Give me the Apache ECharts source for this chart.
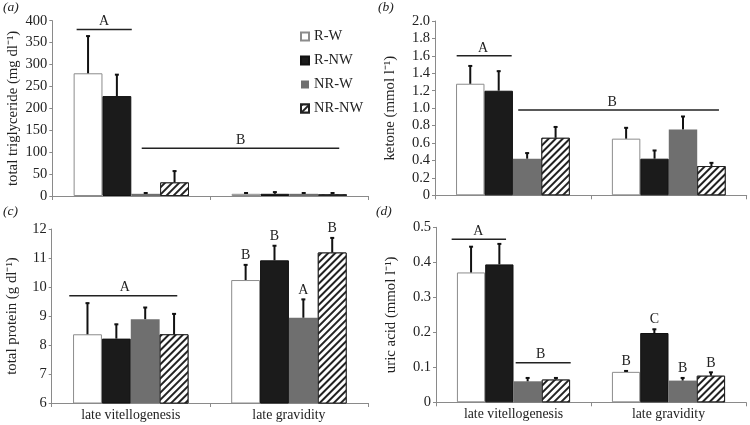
<!DOCTYPE html>
<html><head><meta charset="utf-8">
<script src="https://cdn.jsdelivr.net/npm/echarts@6/dist/echarts.min.js"></script>
<style>html,body{margin:0;padding:0;background:#fff}#c{width:750px;height:425px}</style>
</head><body><div id="c"></div>
<script>
// ---------- data ----------
const categories = ['late vitellogenesis', 'late gravidity'];
const seriesNames = ['R-W', 'R-NW', 'NR-W', 'NR-NW'];

// (a) total triglyceride: means / error tops, one row per series, [vitellogenesis, gravidity]
const trigMeans = [[280, 5], [228, 5], [5, 5], [31, 4]];
const trigErrs  = [[366, 8], [278, 10], [8, 8], [58, 8]];
const trigTicks = [0, 400, 50];
// annotation lines: [x1, x2, y, labelX] in category units; labels separately
const trigAnnLines = [[0.154, 0.503, 380, 0.327], [0.566, 1.816, 109, 1.192]];
const trigAnnLabels = ['A', 'B'];

// (b) ketone
const ketMeans = [[1.28, 0.65], [1.20, 0.42], [0.42, 0.756], [0.66, 0.336]];
const ketErrs  = [[1.49, 0.78], [1.43, 0.52], [0.49, 0.91], [0.79, 0.378]];
const ketTicks = [0, 2, 0.2];
const ketAnnLines = [[0.139, 0.492, 1.60, 0.308], [0.534, 1.822, 0.98, 1.136]];
const ketAnnLabels = ['A', 'B'];

// (c) total protein
const protMeans = [[8.37, 10.24], [8.22, 10.92], [8.89, 8.94], [8.37, 11.19]];
const protErrs  = [[9.46, 10.78], [8.73, 11.44], [9.31, 9.59], [9.09, 11.71]];
const protTicks = [6, 12, 1];
const protAnnLines = [[0.111, 0.794, 9.70, 0.463]];
const protAnnLabels = ['A'];
const protLetters = [['', 'B'], ['', 'B'], ['', 'A'], ['', 'B']];

// (d) uric acid
const uricMeans = [[0.371, 0.087], [0.394, 0.198], [0.060, 0.062], [0.065, 0.076]];
const uricErrs  = [[0.446, 0.091], [0.454, 0.210], [0.071, 0.071], [0.071, 0.087]];
const uricTicks = [0, 0.5, 0.1];
const uricAnnLines = [[0.101, 0.452, 0.466, 0.273], [0.514, 0.869, 0.113, 0.675]];
const uricAnnLabels = ['A', 'B'];
const uricLetters = [['', 'B'], ['', 'C'], ['', 'B'], ['', 'B']];

// ---------- layout / style ----------
const FONT = 'Liberation Serif';
const GAP = 0.27;
const TICKFS = 14.5;
const panels = [
  {grid: {left: 52.3, top: 20.7, width: 316, height: 175.3}, ticks: trigTicks, means: trigMeans, errs: trigErrs,
   ann: trigAnnLines, annLab: trigAnnLabels, letters: null, name: 'total triglyceride (mg dl⁻¹)', nameGap: 31.5,
   showCat: false, fmt: v => String(v)},
  {grid: {left: 435, top: 21, width: 311.7, height: 174.3}, ticks: ketTicks, means: ketMeans, errs: ketErrs,
   ann: ketAnnLines, annLab: ketAnnLabels, letters: null, name: 'ketone (mmol l⁻¹)', nameGap: 37,
   showCat: false, fmt: v => v === 0 ? '0' : v.toFixed(1)},
  {grid: {left: 51.7, top: 229, width: 316.3, height: 174}, ticks: protTicks, means: protMeans, errs: protErrs,
   ann: protAnnLines, annLab: protAnnLabels, letters: protLetters, name: 'total protein (g dl⁻¹)', nameGap: 32,
   showCat: true, fmt: v => String(v)},
  {grid: {left: 436, top: 227.3, width: 310, height: 175}, ticks: uricTicks, means: uricMeans, errs: uricErrs,
   ann: uricAnnLines, annLab: uricAnnLabels, letters: uricLetters, name: 'uric acid (mmol l⁻¹)', nameGap: 37,
   showCat: true, fmt: v => v === 0 ? '0' : v.toFixed(1)}
];
const barStyles = [
  {color: '#ffffff', borderColor: '#8c8c8c', borderWidth: 1},
  {color: '#1b1b1b', borderColor: '#111111', borderWidth: 1},
  {color: '#6f6f6f', borderWidth: 0},
  {color: '#ffffff', borderColor: '#222222', borderWidth: 1,
   decal: {symbol: 'rect', symbolSize: 1, dashArrayX: [1, 0], dashArrayY: [1.7, 2.6], rotation: -Math.PI / 4,
           color: '#222222', backgroundColor: '#ffffff'}}
];

const grids = [], xAxes = [], yAxes = [], series = [];
panels.forEach((p, pi) => {
  grids.push(p.grid);
  xAxes.push({type: 'category', gridIndex: pi, data: categories,
    axisLine: {lineStyle: {color: '#8a8a8a', width: 1}},
    axisTick: {show: true, length: 4, lineStyle: {color: '#8a8a8a'}},
    axisLabel: {show: p.showCat, fontFamily: FONT, fontSize: 13.8, color: '#222', margin: 5}});
  xAxes.push({type: 'value', gridIndex: pi, min: 0, max: 2, show: false});
  yAxes.push({type: 'value', gridIndex: pi, min: p.ticks[0], max: p.ticks[1], interval: p.ticks[2],
    name: p.name, nameLocation: 'middle', nameGap: p.nameGap,
    nameTextStyle: {fontFamily: FONT, fontSize: 14.8, color: '#222'},
    axisLine: {show: true, lineStyle: {color: '#8a8a8a', width: 1}},
    axisTick: {show: true, length: 3, lineStyle: {color: '#8a8a8a'}},
    splitLine: {show: false},
    axisLabel: {fontFamily: FONT, fontSize: TICKFS, color: '#222', margin: 5, formatter: p.fmt}});
  const xc = 2 * pi, xv = 2 * pi + 1;
  seriesNames.forEach((nm, si) => {
    series.push({type: 'bar', name: nm, xAxisIndex: xc, yAxisIndex: pi, barGap: '0%', barCategoryGap: (GAP * 100) + '%',
      data: p.means[si], itemStyle: barStyles[si], emphasis: {disabled: true}, animation: false});
  });
  seriesNames.forEach((nm, si) => {
    series.push({type: 'custom', xAxisIndex: xc, yAxisIndex: pi, z: 5, animation: false, silent: true,
      data: categories.map((c, ci) => [ci, p.means[si][ci], p.errs[si][ci]]),
      renderItem: (params, api) => {
        const ci = api.value(0), m = api.value(1), e = api.value(2);
        const band = api.size([1, 0])[0];
        const bw = band * (1 - GAP) / 4;
        const base = api.coord([ci, m]);
        const cx = base[0] - band * (1 - GAP) / 2 + (si + 0.5) * bw;
        const yt = api.coord([ci, e])[1];
        const ch = [
          {type: 'line', shape: {x1: cx, y1: base[1], x2: cx, y2: yt}, style: {stroke: '#111', lineWidth: 2}},
          {type: 'line', shape: {x1: cx - 2, y1: yt + 0.5, x2: cx + 2, y2: yt + 0.5}, style: {stroke: '#111', lineWidth: 2}}
        ];
        const lt = p.letters ? p.letters[si][params.dataIndex] : '';
        if (lt) ch.push({type: 'text', x: cx, y: yt - 2,
          style: {text: lt, fontFamily: FONT, fontSize: 14, fill: '#222', align: 'center', verticalAlign: 'bottom'}});
        return {type: 'group', children: ch};
      }});
  });
  series.push({type: 'custom', xAxisIndex: xv, yAxisIndex: pi, z: 6, animation: false, silent: true,
    data: p.ann,
    renderItem: (params, api) => {
      const a = api.coord([api.value(0), api.value(2)]);
      const b = api.coord([api.value(1), api.value(2)]);
      const lx = api.coord([api.value(3), api.value(2)])[0];
      return {type: 'group', children: [
        {type: 'line', shape: {x1: a[0], y1: a[1], x2: b[0], y2: b[1]}, style: {stroke: '#222', lineWidth: 1.5}},
        {type: 'text', x: lx, y: a[1] - 1,
         style: {text: p.annLab[params.dataIndex], fontFamily: FONT, fontSize: 14, fill: '#222', align: 'center', verticalAlign: 'bottom'}}
      ]};
    }});
});

const tagStyle = {fontFamily: FONT, fontSize: 13.5, fontStyle: 'italic', fill: '#222'};
const chart = echarts.init(document.getElementById('c'), null, {renderer: 'canvas'});
chart.setOption({
  animation: false,
  backgroundColor: '#fff',
  grid: grids, xAxis: xAxes, yAxis: yAxes, series: series,
  legend: {data: seriesNames, orient: 'vertical', left: 295, top: 24, itemWidth: 8, itemHeight: 8, itemGap: 9,
    icon: 'rect', textStyle: {fontFamily: FONT, fontSize: 14.5, color: '#222'}, selectedMode: false},
  graphic: [
    {type: 'text', left: 3, top: 0, style: Object.assign({text: '(a)'}, tagStyle)},
    {type: 'text', left: 378, top: 0, style: Object.assign({text: '(b)'}, tagStyle)},
    {type: 'text', left: 3, top: 204, style: Object.assign({text: '(c)'}, tagStyle)},
    {type: 'text', left: 376, top: 204, style: Object.assign({text: '(d)'}, tagStyle)}
  ]
});
</script>
</body></html>
